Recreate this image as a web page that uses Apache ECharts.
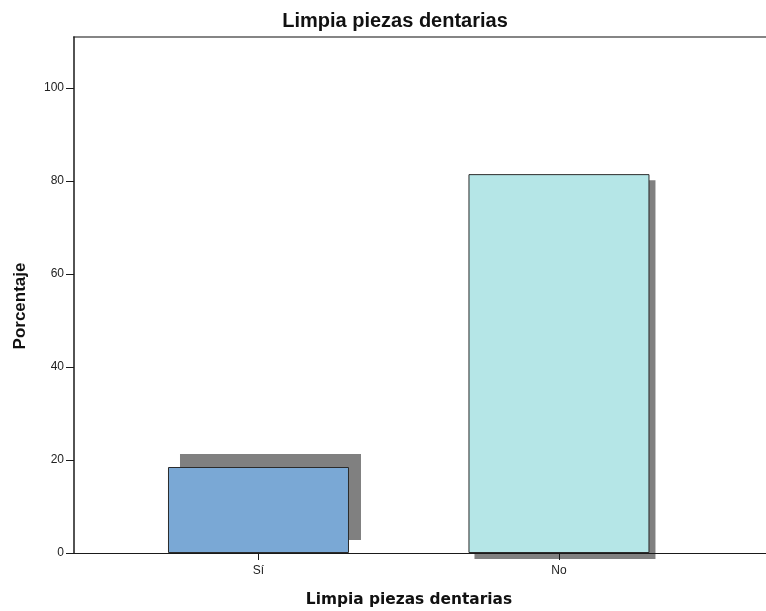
<!DOCTYPE html>
<html>
<head>
<meta charset="utf-8">
<script src="https://cdn.jsdelivr.net/npm/echarts@6/dist/echarts.min.js"></script>
<style>
  html, body { margin: 0; padding: 0; background: #fff; }
  #chart { width: 766px; height: 611px; }
</style>
</head>
<body>
<div id="chart"></div>
<script>
// Respuestas y porcentajes
const categories = ['Sí', 'No'];
const percentages = [18.5, 81.5];
const yTicks = [0, 20, 40, 60, 80, 100];

// Estilo de cada barra (relleno y desplazamiento de su sombra en px)
const barColors = ['#7aa8d5', '#b5e6e7'];
const shadowShift = [[12, -13], [6, 6]];
const BAR_W = 181;

const points = categories.map((c, i) => [i, percentages[i]]);
const font = '"Liberation Sans", Arial, sans-serif';

const chart = echarts.init(document.getElementById('chart'), null, { renderer: 'canvas' });

chart.setOption({
  animation: false,
  backgroundColor: '#ffffff',
  title: {
    text: 'Limpia piezas dentarias',
    left: 390,
    top: 6,
    textAlign: 'center',
    textStyle: { fontFamily: font, fontSize: 20, fontWeight: 'bold', color: '#111' }
  },
  grid: { left: 74, right: 0, top: 37, bottom: 58 },
  xAxis: [
    {
      type: 'value',
      min: -0.614,
      max: 1.689,
      z: 3,
      splitLine: { show: false },
      axisLine: { show: true, onZero: false, lineStyle: { color: '#1a1a1a', width: 1 } },
      axisTick: { show: true, length: 7, customValues: [0, 1], lineStyle: { color: '#1a1a1a' } },
      axisLabel: {
        customValues: [0, 1],
        margin: 12,
        fontFamily: font, fontSize: 12, color: '#222',
        formatter: v => categories[Math.round(v)]
      }
    },
    {
      type: 'value',
      position: 'top',
      min: -0.614,
      max: 1.689,
      splitLine: { show: false },
      axisLine: { show: true, onZero: false, lineStyle: { color: '#858585', width: 2 } },
      axisTick: { show: false },
      axisLabel: { show: false }
    }
  ],
  yAxis: {
    type: 'value',
    min: 0,
    max: 111,
    z: 3,
    splitLine: { show: false },
    axisLine: { show: true, onZero: false, lineStyle: { color: '#1a1a1a', width: 1.5 } },
    axisTick: { show: true, length: 8, customValues: yTicks, lineStyle: { color: '#1a1a1a' } },
    axisLabel: {
      customValues: yTicks,
      margin: 10,
      fontFamily: font, fontSize: 12, color: '#222'
    }
  },
  graphic: [
    {
      type: 'text',
      x: 20, y: 306,
      rotation: Math.PI / 2,
      style: {
        text: 'Porcentaje',
        fontFamily: font, fontSize: 17, fontWeight: 'bold', fill: '#111',
        align: 'center', verticalAlign: 'middle'
      }
    },
    {
      type: 'text',
      x: 409, y: 600,
      style: {
        text: 'Limpia piezas dentarias',
        fontFamily: '"DejaVu Sans", sans-serif', fontSize: 15.4, fontWeight: 'bold', fill: '#111',
        align: 'center', verticalAlign: 'middle'
      }
    }
  ],
  series: [
    {
      // sombras grises desplazadas detrás de cada barra
      type: 'custom',
      z: 1,
      clip: false,
      data: points,
      renderItem: (params, api) => {
        const i = params.dataIndex;
        const top = api.coord([api.value(0), api.value(1)]);
        const base = api.coord([api.value(0), 0]);
        const [dx, dy] = shadowShift[i];
        return {
          type: 'rect',
          shape: { x: top[0] - BAR_W / 2 + dx, y: top[1] + dy, width: BAR_W, height: base[1] - top[1] },
          style: { fill: '#808080' }
        };
      }
    },
    {
      type: 'bar',
      z: 2,
      barWidth: BAR_W,
      data: points.map((p, i) => ({
        value: p,
        itemStyle: { color: barColors[i], borderColor: '#2b2b2b', borderWidth: 1 }
      }))
    }
  ]
});
</script>
</body>
</html>
